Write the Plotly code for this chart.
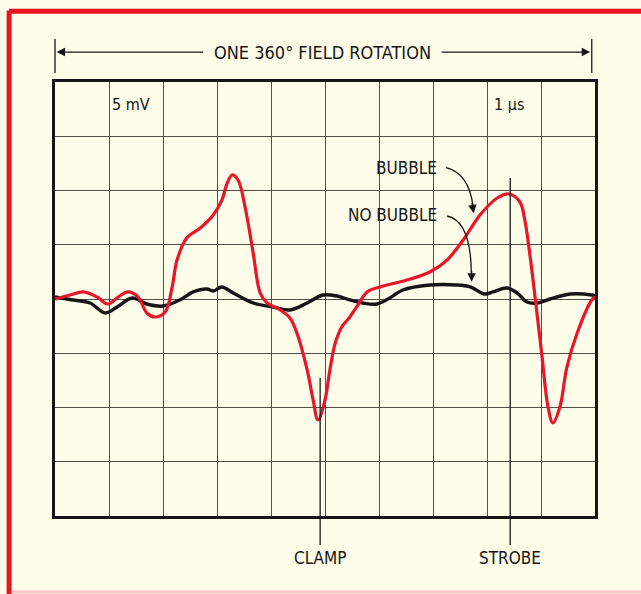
import plotly.graph_objects as go

# Oscilloscope trace: sense-amplifier output over one 360° field rotation
# horizontal: 1 µs per division, vertical: 5 mV per division
time_bubble_us = [0.00, 0.28, 0.52, 0.78, 0.98, 1.17, 1.35, 1.54, 1.70, 1.85, 2.04, 2.17, 2.26,
                  2.44, 2.69, 2.93, 3.09, 3.19, 3.28, 3.39, 3.52, 3.67, 3.80, 3.93, 4.17, 4.35,
                  4.48, 4.67, 4.78, 4.87, 5.00, 5.09, 5.19, 5.31, 5.46, 5.61, 5.78, 6.02, 6.52,
                  6.94, 7.26, 7.56, 7.87, 8.19, 8.41, 8.61, 8.70, 8.80, 8.89, 9.02, 9.13, 9.22,
                  9.35, 9.48, 9.67, 9.94, 10.00]
bubble_mv = [0.0, 0.37, 0.65, 0.18, -0.46, 0.18, 0.65, 0.18, -1.29, -1.66, -1.20, 1.11, 3.59,
             5.62, 6.54, 7.74, 9.12, 10.69, 11.43, 10.97, 8.48, 4.24, 0.55, -0.37, -1.01, -1.75,
             -3.13, -6.54, -9.31, -11.15, -9.31, -6.54, -4.06, -2.58, -1.66, -0.55, 0.65, 1.11, 1.75,
             2.49, 3.59, 5.44, 7.74, 9.31, 9.68, 8.94, 7.28, 3.87, 0.18, -5.35, -9.95, -11.43,
             -9.95, -6.27, -3.13, -0.09, 0.18]

time_no_bubble_us = [0.00, 0.33, 0.65, 0.93, 1.15, 1.43, 1.70, 2.00, 2.31, 2.56, 2.81, 2.93, 3.09,
                     3.30, 3.67, 4.04, 4.35, 4.67, 4.96, 5.22, 5.46, 5.70, 5.96, 6.20, 6.44, 6.94,
                     7.44, 7.69, 7.96, 8.11, 8.37, 8.56, 8.74, 8.93, 9.17, 9.54, 9.94, 10.00]
no_bubble_mv = [0.18, -0.09, -0.37, -1.29, -0.74, 0.09, -0.46, -0.65, -0.09, 0.65, 0.92, 0.74, 1.11,
                0.55, -0.37, -0.74, -1.01, -0.37, 0.37, 0.28, -0.09, -0.37, -0.46, 0.09, 0.83, 1.29,
                1.29, 1.11, 0.46, 0.65, 1.01, 0.55, -0.28, -0.37, 0.0, 0.46, 0.37, 0.30]

clamp_us = 4.91
strobe_us = 8.43

FONT = "DejaVu Sans Condensed, Liberation Sans Narrow, Arial Narrow, sans-serif"
INK = "#161616"
TRACE_RED = "#e8162c"
PAPER = "#fcfce9"
GRID = "#505048"

fig = go.Figure()
fig.add_trace(go.Scatter(x=time_no_bubble_us, y=no_bubble_mv, mode="lines",
                         line=dict(color=INK, width=3.4, shape="spline", smoothing=1.0),
                         name="NO BUBBLE", hoverinfo="skip"))
fig.add_trace(go.Scatter(x=time_bubble_us, y=bubble_mv, mode="lines",
                         line=dict(color=TRACE_RED, width=3.2, shape="spline", smoothing=1.0),
                         name="BUBBLE", hoverinfo="skip"))

axis_common = dict(showticklabels=False, ticks="", showgrid=True, gridcolor=GRID, gridwidth=1.3,
                   zeroline=False, showline=True, mirror=True, linecolor=INK, linewidth=3,
                   fixedrange=True)
fig.update_xaxes(range=[0, 10], dtick=1, tick0=0, **axis_common)
fig.update_yaxes(range=[-20, 20], dtick=5, tick0=-20, **axis_common)

shapes = []
annotations = []

# CLAMP and STROBE markers (vertical hairlines running below the graticule)
for t, top in ((clamp_us, 0.318), (strobe_us, 0.779)):
    shapes.append(dict(type="line", xref="x", yref="paper", x0=t, x1=t, y0=-0.067, y1=top,
                       line=dict(color=INK, width=1.3)))
for t, label in ((clamp_us, "CLAMP"), (strobe_us, "STROBE")):
    annotations.append(dict(x=t, y=-0.097, xref="x", yref="paper", text=label, showarrow=False,
                            font=dict(family=FONT, size=17, color=INK), xanchor="center",
                            yanchor="middle"))

# Field-rotation span arrow above the graticule
for xp in (0.0, 0.994):
    shapes.append(dict(type="line", xref="paper", yref="paper", x0=xp, x1=xp, y0=1.021, y1=1.099,
                       line=dict(color=INK, width=1.3)))
annotations.append(dict(x=0.003, y=1.069, xref="paper", yref="paper", text="", showarrow=True,
                        ax=148, ay=0, arrowhead=2, arrowsize=1.3, arrowwidth=1.3, arrowcolor=INK))
annotations.append(dict(x=0.991, y=1.069, xref="paper", yref="paper", text="", showarrow=True,
                        ax=-150, ay=0, arrowhead=2, arrowsize=1.3, arrowwidth=1.3, arrowcolor=INK))
annotations.append(dict(x=0.496, y=1.069, xref="paper", yref="paper",
                        text="ONE 360° FIELD ROTATION", showarrow=False,
                        font=dict(family=FONT, size=18, color=INK), xanchor="center",
                        yanchor="middle"))

# Scale factors
annotations.append(dict(x=1.4, y=17.9, xref="x", yref="y", text="5 mV", showarrow=False,
                        font=dict(family=FONT, size=16, color=INK)))
annotations.append(dict(x=8.4, y=17.9, xref="x", yref="y", text="1 \u03bcs", showarrow=False,
                        font=dict(family=FONT, size=16, color=INK)))

# Trace labels with curved leader arrows
annotations.append(dict(x=7.12, y=12.1, xref="x", yref="y", text="BUBBLE", showarrow=False,
                        xanchor="right", font=dict(family=FONT, size=17, color=INK)))
annotations.append(dict(x=7.12, y=7.7, xref="x", yref="y", text="NO BUBBLE", showarrow=False,
                        xanchor="right", font=dict(family=FONT, size=17, color=INK)))
shapes.append(dict(type="path", xref="x", yref="y", path="M 7.24 12.1 Q 7.66 11.6 7.74 8.6",
                   line=dict(color=INK, width=1.3)))
shapes.append(dict(type="path", xref="x", yref="y", path="M 7.26 7.65 Q 7.70 7.2 7.71 2.4",
                   line=dict(color=INK, width=1.3)))
annotations.append(dict(x=7.755, y=7.9, xref="x", yref="y", text="", showarrow=True,
                        ax=-2, ay=-12, arrowhead=2, arrowsize=1.3, arrowwidth=1.3, arrowcolor=INK))
annotations.append(dict(x=7.715, y=1.6, xref="x", yref="y", text="", showarrow=True,
                        ax=0, ay=-12, arrowhead=2, arrowsize=1.3, arrowwidth=1.3, arrowcolor=INK))

# Red frame on the page
shapes.append(dict(type="line", xref="paper", yref="paper", x0=-0.085, x1=1.1, y0=1.163, y1=1.163,
                   line=dict(color="#e8141e", width=5)))
shapes.append(dict(type="line", xref="paper", yref="paper", x0=-0.085, x1=-0.085, y0=1.165, y1=-0.19,
                   line=dict(color="#e8141e", width=5)))
shapes.append(dict(type="line", xref="paper", yref="paper", x0=-0.08, x1=1.1, y0=-0.175, y1=-0.175,
                   line=dict(color="#f6c4c4", width=3)))

fig.update_layout(width=641, height=594, margin=dict(l=55, r=46, t=82, b=78),
                  paper_bgcolor=PAPER, plot_bgcolor=PAPER, showlegend=False,
                  shapes=shapes, annotations=annotations)

fig.write_html("out.html")
